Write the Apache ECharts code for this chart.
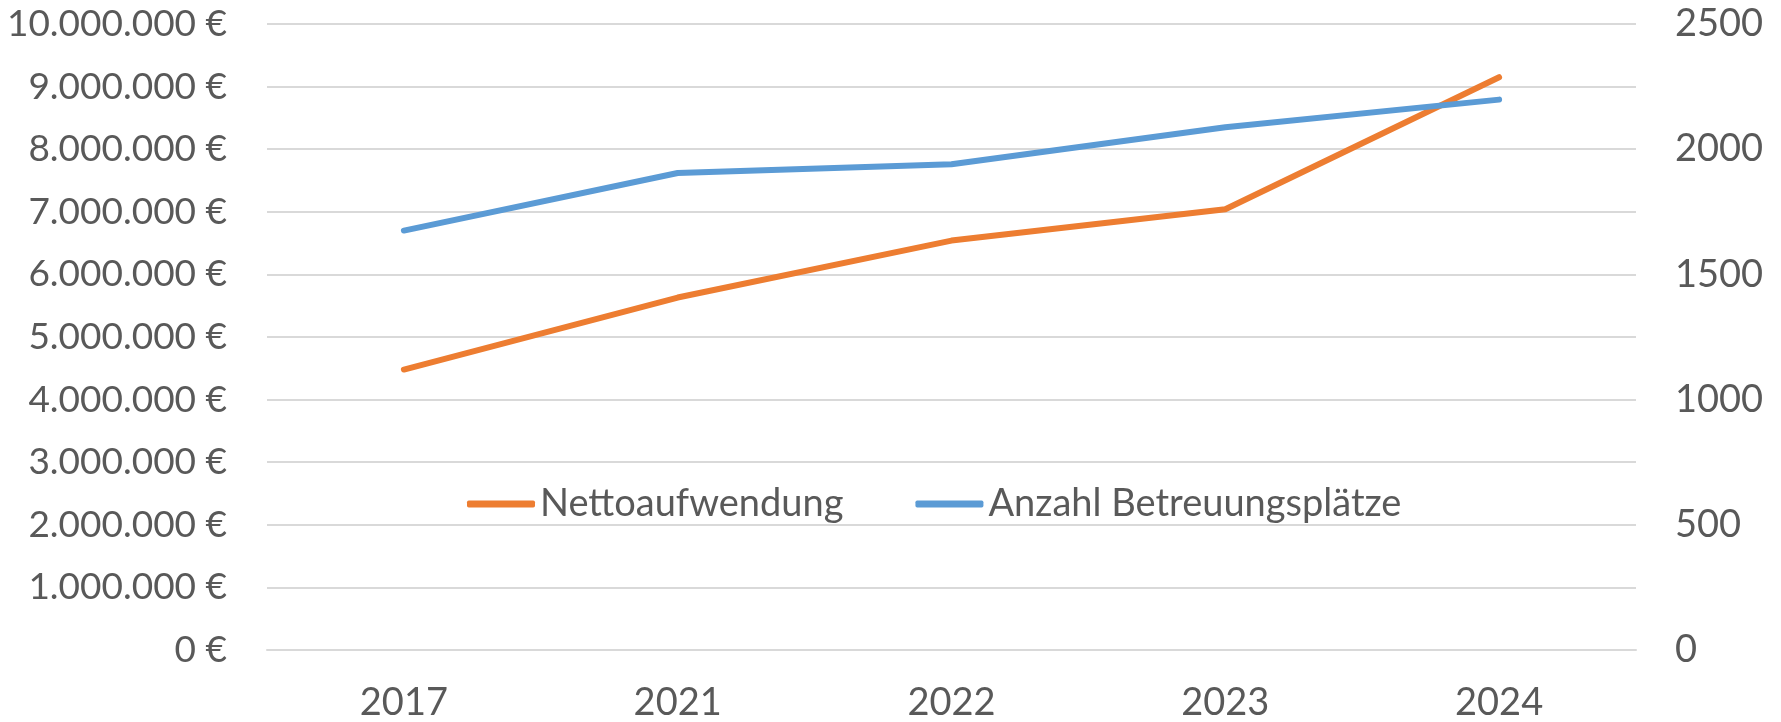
<!DOCTYPE html>
<html>
<head>
<meta charset="utf-8">
<script src="https://cdn.jsdelivr.net/npm/echarts@6/dist/echarts.min.js"></script>
<style>
  html, body { margin: 0; padding: 0; background: #fff; }
  #chart { width: 1781px; height: 722px; }
</style>
</head>
<body>
<div id="chart"></div>
<script>
  // Daten
  var jahre = ['2017', '2021', '2022', '2023', '2024'];
  var nettoaufwendung = [4480000, 5630000, 6540000, 7040000, 9150000];
  var betreuungsplaetze = [1675, 1905, 1940, 2088, 2198];

  var FONT = 'Lato';
  var GRAU = '#595959';

  function euro(v) {
    return String(v).replace(/\B(?=(\d{3})+(?!\d))/g, '.') + ' €';
  }

  var myChart = echarts.init(document.getElementById('chart'));
  myChart.setOption({
    animation: false,
    textStyle: { fontFamily: FONT },
    grid: { left: 267, right: 145, top: 24, bottom: 69 },
    legend: {
      left: 462,
      top: 480,
      itemWidth: 68,
      itemHeight: 7,
      itemGap: 72,
      icon: 'roundRect',
      textStyle: { fontFamily: FONT, fontSize: 38, color: GRAU },
      data: ['Nettoaufwendung', 'Anzahl Betreuungsplätze']
    },
    xAxis: {
      type: 'category',
      data: jahre,
      boundaryGap: true,
      axisLine: { lineStyle: { color: '#D9D9D9', width: 2 } },
      axisTick: { show: false },
      axisLabel: { fontFamily: FONT, fontSize: 38, color: GRAU, margin: 34 }
    },
    yAxis: [{
      type: 'value',
      min: 0,
      max: 10000000,
      interval: 1000000,
      axisLine: { show: false },
      axisTick: { show: false },
      splitLine: { lineStyle: { color: '#D9D9D9', width: 2 } },
      axisLabel: { fontFamily: FONT, fontSize: 37, color: GRAU, margin: 40, formatter: euro }
    }, {
      type: 'value',
      min: 0,
      max: 2500,
      interval: 500,
      axisLine: { show: false },
      axisTick: { show: false },
      splitLine: { show: false },
      axisLabel: {
        fontFamily: FONT, fontSize: 38, color: GRAU, margin: 39,
        formatter: function (v) { return String(v); }
      }
    }],
    series: [{
      name: 'Nettoaufwendung',
      type: 'line',
      yAxisIndex: 0,
      data: nettoaufwendung,
      showSymbol: false,
      color: '#ED7D31',
      lineStyle: { width: 6, color: '#ED7D31', cap: 'round', join: 'round' }
    }, {
      name: 'Anzahl Betreuungsplätze',
      type: 'line',
      yAxisIndex: 1,
      data: betreuungsplaetze,
      showSymbol: false,
      color: '#5B9BD5',
      lineStyle: { width: 6, color: '#5B9BD5', cap: 'round', join: 'round' }
    }]
  });

  window.addEventListener('resize', function () {
    myChart.resize();
  });
</script>
</body>
</html>
